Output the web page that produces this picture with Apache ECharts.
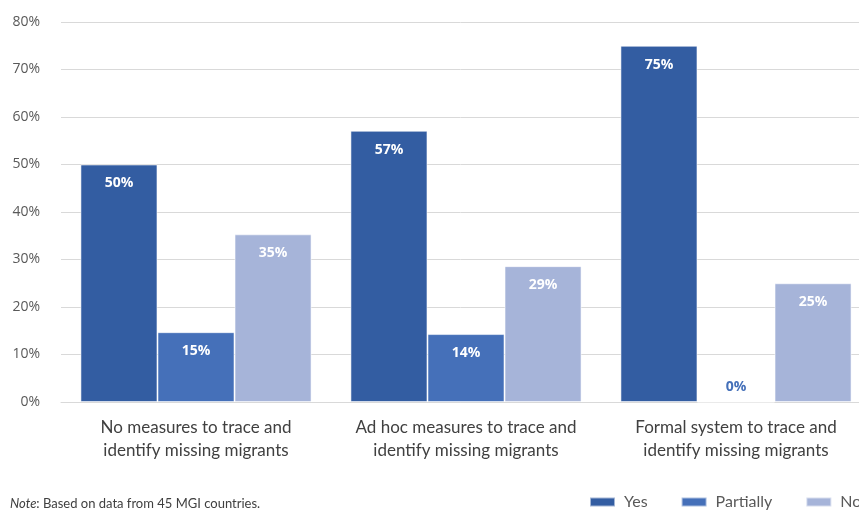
<!DOCTYPE html>
<html>
<head>
<meta charset="utf-8">
<script src="https://cdn.jsdelivr.net/npm/echarts@6/dist/echarts.min.js"></script>
<style>html,body{margin:0;padding:0;background:#fff}#c{width:859px;height:510px}</style>
</head>
<body>
<div id="c"></div>
<script>
const categories = ["No measures to trace and\nidentify missing migrants", "Ad hoc measures to trace and\nidentify missing migrants", "Formal system to trace and\nidentify missing migrants"];
const seriesNames = ["Yes", "Partially", "No"];
const yesValues = [50, 57.1, 75];
const partiallyValues = [14.7, 14.3, 0];
const noValues = [35.3, 28.6, 25];
const yTicks = [0, 10, 20, 30, 40, 50, 60, 70, 80];
const colors = ["#335DA2", "#4570B9", "#A6B4D9"];

const chart = echarts.init(document.getElementById('c'), null, {renderer: 'canvas'});
function mkSeries(name, vals, color) {
  return {
    name: name, type: 'bar', barGap: '0%', barCategoryGap: '14.4%',
    itemStyle: {color: color, borderColor: 'rgba(255,255,255,0.55)', borderWidth: 1},
    label: {show: true, position: 'insideTop', distance: 12, color: '#fff', fontWeight: 'bold',
      fontFamily: 'Open Sans', fontSize: 14, formatter: p => Math.round(p.value) + '%'},
    data: vals.map(v => v === 0 ? {value: v, label: {position: 'top', distance: 7, color: '#4570B9'}} : v)
  };
}
chart.setOption({
  animation: false,
  color: colors,
  grid: {left: 61, top: 22, width: 810, height: 380, containLabel: false, outerBoundsMode: 'none'},
  title: {
    text: '{i|Note}{n|: Based on data from 45 MGI countries.}',
    left: 10, top: 497, padding: 0,
    textStyle: {fontWeight: 'normal', rich: {
      i: {fontStyle: 'italic', fontWeight: 'normal', fontSize: 13, color: '#404040', fontFamily: 'Lato'},
      n: {fontWeight: 'normal', fontSize: 13, color: '#404040', fontFamily: 'Lato'}
    }}
  },
  legend: {
    data: seriesNames, left: 589, top: 494, width: 400, itemWidth: 25, itemHeight: 9, itemGap: 33,
    icon: 'rect', padding: 0,
    textStyle: {fontSize: 16, color: '#595959', fontFamily: 'Lato', padding: [0, 0, 0, 4]}
  },
  xAxis: {
    type: 'category', data: categories,
    axisLine: {lineStyle: {color: '#d9d9d9'}},
    axisTick: {show: false},
    axisLabel: {fontSize: 17, color: '#404040', fontFamily: 'Lato', lineHeight: 23, margin: 14, interval: 0}
  },
  yAxis: {
    type: 'value', min: yTicks[0], max: yTicks[yTicks.length - 1], interval: 10,
    axisLine: {show: false}, axisTick: {show: false},
    splitLine: {lineStyle: {color: '#d9d9d9', width: 1}},
    axisLabel: {fontSize: 14, color: '#595959', fontFamily: 'Open Sans', margin: 21, formatter: v => v + '%'}
  },
  series: [
    mkSeries(seriesNames[0], yesValues, colors[0]),
    mkSeries(seriesNames[1], partiallyValues, colors[1]),
    mkSeries(seriesNames[2], noValues, colors[2])
  ]
});
</script>
</body>
</html>
